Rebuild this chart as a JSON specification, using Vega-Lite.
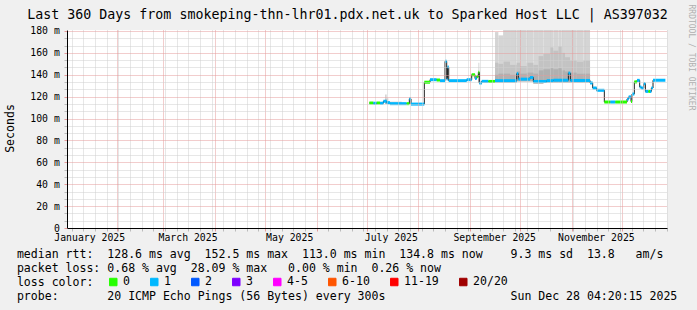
{
  "$schema": "https://vega.github.io/schema/vega-lite/v6.json",
  "width": 600,
  "height": 198,
  "autosize": {"type": "none"},
  "padding": {"left": 67, "top": 30, "right": 30, "bottom": 82},
  "background": "#f0f0f0",
  "config": {"view": {"stroke": null, "fill": "#ffffff"}, "font": "DejaVu Sans Mono"},
  "title": {
    "text": "Last 360 Days from smokeping-thn-lhr01.pdx.net.uk to Sparked Host LLC | AS397032",
    "font": "DejaVu Sans Mono", "fontSize": 13.3, "fontWeight": "normal", "color": "#000000",
    "anchor": "middle", "frame": "group", "dx": -19.5, "dy": 37, "offset": 6, "baseline": "bottom", "orient": "top"
  },
  "datasets": {
    "median": [
      {"t0": "2025-07-02T14:00:00Z", "t1": "2025-07-05T00:00:00Z", "v": 114.2, "loss": "0"},
      {"t0": "2025-07-05T00:00:00Z", "t1": "2025-07-07T00:00:00Z", "v": 114.0, "loss": "1"},
      {"t0": "2025-07-07T00:00:00Z", "t1": "2025-07-09T00:00:00Z", "v": 114.2, "loss": "0"},
      {"t0": "2025-07-09T00:00:00Z", "t1": "2025-07-11T00:00:00Z", "v": 114.0, "loss": "1"},
      {"t0": "2025-07-11T00:00:00Z", "t1": "2025-07-13T00:00:00Z", "v": 115.8, "loss": "1"},
      {"t0": "2025-07-13T00:00:00Z", "t1": "2025-07-15T00:00:00Z", "v": 114.5, "loss": "1"},
      {"t0": "2025-07-15T00:00:00Z", "t1": "2025-07-25T00:00:00Z", "v": 113.6, "loss": "1"},
      {"t0": "2025-07-25T00:00:00Z", "t1": "2025-07-26T14:00:00Z", "v": 113.6, "loss": "0"},
      {"t0": "2025-07-26T14:00:00Z", "t1": "2025-07-27T14:00:00Z", "v": 118.0, "loss": "1"},
      {"t0": "2025-07-27T14:00:00Z", "t1": "2025-08-04T14:00:00Z", "v": 113.2, "loss": "1"},
      {"t0": "2025-08-04T14:00:00Z", "t1": "2025-08-08T00:00:00Z", "v": 133.2, "loss": "0"},
      {"t0": "2025-08-08T00:00:00Z", "t1": "2025-08-12T00:00:00Z", "v": 135.5, "loss": "1"},
      {"t0": "2025-08-12T00:00:00Z", "t1": "2025-08-14T00:00:00Z", "v": 135.2, "loss": "0"},
      {"t0": "2025-08-14T00:00:00Z", "t1": "2025-08-17T00:00:00Z", "v": 134.6, "loss": "1"},
      {"t0": "2025-08-17T00:00:00Z", "t1": "2025-08-18T00:00:00Z", "v": 152.3, "loss": "1"},
      {"t0": "2025-08-18T00:00:00Z", "t1": "2025-08-18T12:00:00Z", "v": 136.0, "loss": "1"},
      {"t0": "2025-08-18T12:00:00Z", "t1": "2025-08-19T05:00:00Z", "v": 147.0, "loss": "1"},
      {"t0": "2025-08-19T05:00:00Z", "t1": "2025-08-30T00:00:00Z", "v": 134.6, "loss": "1"},
      {"t0": "2025-08-30T00:00:00Z", "t1": "2025-09-02T00:00:00Z", "v": 135.5, "loss": "1"},
      {"t0": "2025-09-02T00:00:00Z", "t1": "2025-09-04T00:00:00Z", "v": 140.0, "loss": "0"},
      {"t0": "2025-09-04T00:00:00Z", "t1": "2025-09-05T00:00:00Z", "v": 136.5, "loss": "1"},
      {"t0": "2025-09-05T00:00:00Z", "t1": "2025-09-06T00:00:00Z", "v": 138.5, "loss": "0"},
      {"t0": "2025-09-06T00:00:00Z", "t1": "2025-09-06T14:00:00Z", "v": 142.2, "loss": "0"},
      {"t0": "2025-09-06T14:00:00Z", "t1": "2025-09-08T00:00:00Z", "v": 132.4, "loss": "1"},
      {"t0": "2025-09-08T00:00:00Z", "t1": "2025-09-12T00:00:00Z", "v": 134.0, "loss": "1"},
      {"t0": "2025-09-12T00:00:00Z", "t1": "2025-09-16T00:00:00Z", "v": 133.9, "loss": "0"},
      {"t0": "2025-09-16T00:00:00Z", "t1": "2025-09-29T00:00:00Z", "v": 134.6, "loss": "1"},
      {"t0": "2025-09-29T00:00:00Z", "t1": "2025-09-30T00:00:00Z", "v": 141.0, "loss": "1"},
      {"t0": "2025-09-30T00:00:00Z", "t1": "2025-10-07T00:00:00Z", "v": 136.0, "loss": "1"},
      {"t0": "2025-10-07T00:00:00Z", "t1": "2025-10-09T00:00:00Z", "v": 137.6, "loss": "1"},
      {"t0": "2025-10-09T00:00:00Z", "t1": "2025-10-17T00:00:00Z", "v": 133.9, "loss": "1"},
      {"t0": "2025-10-17T00:00:00Z", "t1": "2025-10-21T00:00:00Z", "v": 134.6, "loss": "1"},
      {"t0": "2025-10-21T00:00:00Z", "t1": "2025-10-30T00:00:00Z", "v": 135.0, "loss": "1"},
      {"t0": "2025-10-30T00:00:00Z", "t1": "2025-10-31T05:00:00Z", "v": 141.5, "loss": "1"},
      {"t0": "2025-10-31T05:00:00Z", "t1": "2025-11-12T00:00:00Z", "v": 134.8, "loss": "1"},
      {"t0": "2025-11-12T00:00:00Z", "t1": "2025-11-13T14:00:00Z", "v": 132.5, "loss": "1"},
      {"t0": "2025-11-13T14:00:00Z", "t1": "2025-11-16T00:00:00Z", "v": 127.9, "loss": "1"},
      {"t0": "2025-11-16T00:00:00Z", "t1": "2025-11-20T14:00:00Z", "v": 125.8, "loss": "1"},
      {"t0": "2025-11-20T14:00:00Z", "t1": "2025-11-24T05:00:00Z", "v": 115.1, "loss": "0"},
      {"t0": "2025-11-24T05:00:00Z", "t1": "2025-11-27T05:00:00Z", "v": 115.1, "loss": "1"},
      {"t0": "2025-11-27T05:00:00Z", "t1": "2025-12-04T05:00:00Z", "v": 115.1, "loss": "0"},
      {"t0": "2025-12-04T05:00:00Z", "t1": "2025-12-05T05:00:00Z", "v": 117.9, "loss": "1"},
      {"t0": "2025-12-05T05:00:00Z", "t1": "2025-12-06T14:00:00Z", "v": 119.8, "loss": "1"},
      {"t0": "2025-12-06T14:00:00Z", "t1": "2025-12-07T05:00:00Z", "v": 115.5, "loss": "0"},
      {"t0": "2025-12-07T05:00:00Z", "t1": "2025-12-08T14:00:00Z", "v": 122.4, "loss": "1"},
      {"t0": "2025-12-08T14:00:00Z", "t1": "2025-12-10T05:00:00Z", "v": 133.5, "loss": "0"},
      {"t0": "2025-12-10T05:00:00Z", "t1": "2025-12-11T19:00:00Z", "v": 134.9, "loss": "1"},
      {"t0": "2025-12-11T19:00:00Z", "t1": "2025-12-12T19:00:00Z", "v": 128.8, "loss": "1"},
      {"t0": "2025-12-12T19:00:00Z", "t1": "2025-12-14T05:00:00Z", "v": 127.9, "loss": "1"},
      {"t0": "2025-12-14T05:00:00Z", "t1": "2025-12-15T05:00:00Z", "v": 131.9, "loss": "1"},
      {"t0": "2025-12-15T05:00:00Z", "t1": "2025-12-17T00:00:00Z", "v": 124.8, "loss": "1"},
      {"t0": "2025-12-17T00:00:00Z", "t1": "2025-12-18T00:00:00Z", "v": 124.8, "loss": "0"},
      {"t0": "2025-12-18T00:00:00Z", "t1": "2025-12-18T19:00:00Z", "v": 124.8, "loss": "1"},
      {"t0": "2025-12-18T19:00:00Z", "t1": "2025-12-19T19:00:00Z", "v": 127.9, "loss": "1"},
      {"t0": "2025-12-19T19:00:00Z", "t1": "2025-12-27T05:00:00Z", "v": 135.0, "loss": "1"}
    ],
    "smoke": [
      {"t0": "2025-07-12T00:00:00Z", "t1": "2025-07-13T00:00:00Z", "lo": 113.6, "m1": 115, "m2": 118, "hi": 122},
      {"t0": "2025-07-13T00:00:00Z", "t1": "2025-07-14T00:00:00Z", "lo": 113.6, "m1": 114.5, "m2": 116, "hi": 118.5},
      {"t0": "2025-07-14T00:00:00Z", "t1": "2025-07-22T00:00:00Z", "lo": 113.2, "m1": 113.6, "m2": 114, "hi": 115.5},
      {"t0": "2025-09-06T00:00:00Z", "t1": "2025-09-06T14:00:00Z", "lo": 133, "m1": 136, "m2": 142, "hi": 151},
      {"t0": "2025-09-16T00:00:00Z", "t1": "2025-09-18T00:00:00Z", "lo": 133, "m1": 140, "m2": 151, "hi": 179},
      {"t0": "2025-09-18T00:00:00Z", "t1": "2025-09-21T00:00:00Z", "lo": 133, "m1": 141, "m2": 150, "hi": 176},
      {"t0": "2025-09-21T00:00:00Z", "t1": "2025-09-25T00:00:00Z", "lo": 133, "m1": 141, "m2": 152, "hi": 185},
      {"t0": "2025-09-25T00:00:00Z", "t1": "2025-09-29T00:00:00Z", "lo": 133, "m1": 140, "m2": 149, "hi": 185},
      {"t0": "2025-09-29T00:00:00Z", "t1": "2025-10-01T00:00:00Z", "lo": 134, "m1": 143, "m2": 151, "hi": 185},
      {"t0": "2025-10-01T00:00:00Z", "t1": "2025-10-05T00:00:00Z", "lo": 134, "m1": 141, "m2": 148, "hi": 185},
      {"t0": "2025-10-05T00:00:00Z", "t1": "2025-10-09T00:00:00Z", "lo": 134, "m1": 142, "m2": 151, "hi": 185},
      {"t0": "2025-10-09T00:00:00Z", "t1": "2025-10-12T00:00:00Z", "lo": 132, "m1": 141, "m2": 149, "hi": 185},
      {"t0": "2025-10-12T00:00:00Z", "t1": "2025-10-15T00:00:00Z", "lo": 132, "m1": 144, "m2": 157, "hi": 185},
      {"t0": "2025-10-15T00:00:00Z", "t1": "2025-10-19T00:00:00Z", "lo": 133, "m1": 145, "m2": 159, "hi": 185},
      {"t0": "2025-10-19T00:00:00Z", "t1": "2025-10-21T00:00:00Z", "lo": 133, "m1": 146, "m2": 165, "hi": 185},
      {"t0": "2025-10-21T00:00:00Z", "t1": "2025-10-24T00:00:00Z", "lo": 133, "m1": 145, "m2": 162, "hi": 185},
      {"t0": "2025-10-24T00:00:00Z", "t1": "2025-10-26T00:00:00Z", "lo": 133, "m1": 146, "m2": 166, "hi": 185},
      {"t0": "2025-10-26T00:00:00Z", "t1": "2025-10-28T00:00:00Z", "lo": 133, "m1": 144, "m2": 160, "hi": 185},
      {"t0": "2025-10-28T00:00:00Z", "t1": "2025-10-31T00:00:00Z", "lo": 133, "m1": 143, "m2": 156, "hi": 185},
      {"t0": "2025-10-31T00:00:00Z", "t1": "2025-11-04T00:00:00Z", "lo": 133, "m1": 142, "m2": 153, "hi": 185},
      {"t0": "2025-11-04T00:00:00Z", "t1": "2025-11-08T00:00:00Z", "lo": 133, "m1": 141, "m2": 152, "hi": 185},
      {"t0": "2025-11-08T00:00:00Z", "t1": "2025-11-12T00:00:00Z", "lo": 133, "m1": 141, "m2": 153, "hi": 185}
    ]
  },
  "encoding": {
    "x": {
      "field": "t0", "type": "temporal",
      "scale": {"type": "utc", "nice": false, "domain": [
        {"year": 2025, "month": 1, "date": 2, "hours": 4, "minutes": 20, "seconds": 15, "utc": true},
        {"year": 2025, "month": 12, "date": 28, "hours": 4, "minutes": 20, "seconds": 15, "utc": true}]},
      "axis": {
        "orient": "bottom", "zindex": 1,
        "values": [
          {"year": 2025, "month": 1, "date": 5, "utc": true}, {"year": 2025, "month": 1, "date": 12, "utc": true}, {"year": 2025, "month": 1, "date": 19, "utc": true}, {"year": 2025, "month": 1, "date": 26, "utc": true},
          {"year": 2025, "month": 2, "date": 2, "utc": true}, {"year": 2025, "month": 2, "date": 9, "utc": true}, {"year": 2025, "month": 2, "date": 16, "utc": true}, {"year": 2025, "month": 2, "date": 23, "utc": true},
          {"year": 2025, "month": 3, "date": 2, "utc": true}, {"year": 2025, "month": 3, "date": 9, "utc": true}, {"year": 2025, "month": 3, "date": 16, "utc": true}, {"year": 2025, "month": 3, "date": 23, "utc": true}, {"year": 2025, "month": 3, "date": 30, "utc": true},
          {"year": 2025, "month": 4, "date": 6, "utc": true}, {"year": 2025, "month": 4, "date": 13, "utc": true}, {"year": 2025, "month": 4, "date": 20, "utc": true}, {"year": 2025, "month": 4, "date": 27, "utc": true},
          {"year": 2025, "month": 5, "date": 4, "utc": true}, {"year": 2025, "month": 5, "date": 11, "utc": true}, {"year": 2025, "month": 5, "date": 18, "utc": true}, {"year": 2025, "month": 5, "date": 25, "utc": true},
          {"year": 2025, "month": 6, "date": 8, "utc": true}, {"year": 2025, "month": 6, "date": 15, "utc": true}, {"year": 2025, "month": 6, "date": 22, "utc": true}, {"year": 2025, "month": 6, "date": 29, "utc": true},
          {"year": 2025, "month": 7, "date": 6, "utc": true}, {"year": 2025, "month": 7, "date": 13, "utc": true}, {"year": 2025, "month": 7, "date": 20, "utc": true}, {"year": 2025, "month": 7, "date": 27, "utc": true},
          {"year": 2025, "month": 8, "date": 3, "utc": true}, {"year": 2025, "month": 8, "date": 10, "utc": true}, {"year": 2025, "month": 8, "date": 17, "utc": true}, {"year": 2025, "month": 8, "date": 24, "utc": true}, {"year": 2025, "month": 8, "date": 31, "utc": true},
          {"year": 2025, "month": 9, "date": 7, "utc": true}, {"year": 2025, "month": 9, "date": 14, "utc": true}, {"year": 2025, "month": 9, "date": 21, "utc": true}, {"year": 2025, "month": 9, "date": 28, "utc": true},
          {"year": 2025, "month": 10, "date": 5, "utc": true}, {"year": 2025, "month": 10, "date": 12, "utc": true}, {"year": 2025, "month": 10, "date": 19, "utc": true}, {"year": 2025, "month": 10, "date": 26, "utc": true},
          {"year": 2025, "month": 11, "date": 2, "utc": true}, {"year": 2025, "month": 11, "date": 9, "utc": true}, {"year": 2025, "month": 11, "date": 16, "utc": true}, {"year": 2025, "month": 11, "date": 23, "utc": true}, {"year": 2025, "month": 11, "date": 30, "utc": true},
          {"year": 2025, "month": 12, "date": 7, "utc": true}, {"year": 2025, "month": 12, "date": 14, "utc": true}, {"year": 2025, "month": 12, "date": 21, "utc": true}, {"year": 2025, "month": 12, "date": 28, "utc": true},
          {"year": 2025, "month": 2, "date": 1, "utc": true}, {"year": 2025, "month": 3, "date": 1, "utc": true}, {"year": 2025, "month": 4, "date": 1, "utc": true}, {"year": 2025, "month": 5, "date": 1, "utc": true}, {"year": 2025, "month": 6, "date": 1, "utc": true}, {"year": 2025, "month": 7, "date": 1, "utc": true},
          {"year": 2025, "month": 8, "date": 1, "utc": true}, {"year": 2025, "month": 9, "date": 1, "utc": true}, {"year": 2025, "month": 10, "date": 1, "utc": true}, {"year": 2025, "month": 11, "date": 1, "utc": true}, {"year": 2025, "month": 12, "date": 1, "utc": true},
          {"year": 2025, "month": 1, "date": 15, "hours": 12, "utc": true}, {"year": 2025, "month": 3, "date": 15, "hours": 12, "utc": true}, {"year": 2025, "month": 5, "date": 15, "hours": 12, "utc": true},
          {"year": 2025, "month": 7, "date": 15, "hours": 12, "utc": true}, {"year": 2025, "month": 9, "date": 15, "hours": 12, "utc": true}, {"year": 2025, "month": 11, "date": 15, "hours": 12, "utc": true}
        ],
        "grid": true, "gridDash": [1, 1], "gridWidth": 1,
        "gridColor": {"condition": {"test": "utcdate(datum.value) === 1 && utchours(datum.value) === 0", "value": "#e59a9a"}, "value": "#cfcfcf"},
        "gridOpacity": {"condition": {"test": "utchours(datum.value) === 12", "value": 0}, "value": 1},
        "ticks": true, "tickSize": 3,
        "tickColor": {"condition": {"test": "utcdate(datum.value) === 1 && utchours(datum.value) === 0", "value": "#e59a9a"}, "value": "#bbbbbb"},
        "tickOpacity": {"condition": {"test": "utchours(datum.value) === 12", "value": 0}, "value": 1},
        "domain": true, "domainColor": "#000000", "domainWidth": 1,
        "labelExpr": "utchours(datum.value) === 12 ? utcFormat(datum.value, '%B %Y') : ''",
        "labelFont": "DejaVu Sans Mono", "labelFontSize": 9.8, "labelColor": "#000000", "labelPadding": 1.5,
        "labelOverlap": false, "labelFlush": false, "labelBound": false,
        "title": [
          "median rtt:\u00a0\u00a0128.6 ms avg\u00a0\u00a0152.5 ms max\u00a0\u00a0113.0 ms min\u00a0\u00a0134.8 ms now\u00a0\u00a0\u00a0\u00a09.3 ms sd\u00a0\u00a013.8\u00a0\u00a0\u00a0am/s",
          "packet loss: 0.68 % avg\u00a0\u00a028.09 % max\u00a0\u00a0\u00a00.00 % min\u00a0\u00a00.26 % now",
          "loss color:",
          "probe:\u00a0\u00a0\u00a0\u00a0\u00a0\u00a0\u00a020 ICMP Echo Pings (56 Bytes) every 300s\u00a0\u00a0\u00a0\u00a0\u00a0\u00a0\u00a0\u00a0\u00a0\u00a0\u00a0\u00a0\u00a0\u00a0\u00a0\u00a0\u00a0\u00a0Sun Dec 28 04:20:15 2025"
        ],
        "titleFont": "DejaVu Sans Mono", "titleFontSize": 11.55, "titleFontWeight": "normal", "titleColor": "#000000",
        "titleAnchor": "start", "titleAlign": "left", "titleBaseline": "top", "titleX": -50.6, "titleY": 20, "titleLineHeight": 14
      }
    }
  },
  "layer": [
    {
      "data": {"name": "smoke"},
      "mark": {"type": "rect", "color": "#d5d5d5", "clip": true},
      "encoding": {
        "x2": {"field": "t1"},
        "y": {"field": "lo", "type": "quantitative", "scale": {"domain": [0, 180.9], "nice": false, "zero": false},
          "axis": {"orient": "right", "labels": false, "ticks": false, "domain": false, "grid": false,
            "title": "RRDTOOL / TOBI OETIKER", "titleFont": "DejaVu Sans Mono", "titleFontSize": 8, "titleFontWeight": "normal",
            "titleColor": "#b0b0b0", "titleAngle": 90, "titleX": 23, "titleY": 27, "titleAlign": "center", "titleBaseline": "middle"}},
        "y2": {"field": "hi"}
      }
    },
    {
      "data": {"name": "smoke"},
      "mark": {"type": "rect", "color": "#c3c3c3", "clip": true},
      "encoding": {
        "x2": {"field": "t1"},
        "y": {"field": "lo", "type": "quantitative", "scale": {"domain": [0, 180.9], "nice": false, "zero": false}, "axis": null},
        "y2": {"field": "m2"}
      }
    },
    {
      "data": {"name": "smoke"},
      "mark": {"type": "rect", "color": "#b0b0b0", "clip": true},
      "encoding": {
        "x2": {"field": "t1"},
        "y": {"field": "lo", "type": "quantitative", "scale": {"domain": [0, 180.9], "nice": false, "zero": false}, "axis": null},
        "y2": {"field": "m1"}
      }
    },
    {
      "data": {"name": "median"},
      "mark": {"type": "line", "interpolate": "step-after", "color": "#202020", "strokeWidth": 1},
      "encoding": {
        "y": {"field": "v", "type": "quantitative", "scale": {"domain": [0, 180.9], "nice": false, "zero": false},
          "axis": {
            "orient": "left", "zindex": 1,
            "values": [0, 6.6667, 13.3333, 20, 26.6667, 33.3333, 40, 46.6667, 53.3333, 60, 66.6667, 73.3333, 80, 86.6667, 93.3333, 100, 106.6667, 113.3333, 120, 126.6667, 133.3333, 140, 146.6667, 153.3333, 160, 166.6667, 173.3333, 180],
            "grid": true, "gridDash": [1, 1], "gridWidth": 1,
            "gridColor": {"condition": {"test": "abs(datum.value - round(datum.value / 20) * 20) < 0.01", "value": "#e59a9a"}, "value": "#cfcfcf"},
            "gridOpacity": {"condition": {"test": "datum.value < 0.01", "value": 0}, "value": 1},
            "ticks": true, "tickSize": 3,
            "tickColor": {"condition": {"test": "abs(datum.value - round(datum.value / 20) * 20) < 0.01", "value": "#e59a9a"}, "value": "#bbbbbb"},
            "domain": true, "domainColor": "#000000", "domainWidth": 1,
            "labelExpr": "abs(datum.value - round(datum.value / 20) * 20) < 0.01 ? (datum.value < 0.01 ? '0\u00a0\u00a0' : format(datum.value, 'd') + '\u00a0m') : ''",
            "labelFont": "DejaVu Sans Mono", "labelFontSize": 9.8, "labelColor": "#000000", "labelPadding": 4.7,
            "labelOverlap": false, "labelFlush": false, "labelBound": false,
            "title": "Seconds", "titleFont": "DejaVu Sans Mono", "titleFontSize": 11.55, "titleFontWeight": "normal", "titleColor": "#000000",
            "titleX": -57, "titleY": 98, "titleAngle": 270, "titleAlign": "center", "titleBaseline": "middle"
          }}
      }
    },
    {
      "data": {"name": "median"},
      "mark": {"type": "rule", "strokeWidth": 3, "strokeCap": "butt"},
      "encoding": {
        "x2": {"field": "t1"},
        "y": {"field": "v", "type": "quantitative", "scale": {"domain": [0, 180.9], "nice": false, "zero": false}, "axis": null},
        "color": {
          "field": "loss", "type": "nominal",
          "scale": {"domain": ["0", "1", "2", "3", "4-5", "6-10", "11-19", "20/20"],
                    "range": ["#26ff00", "#00b8ff", "#0059ff", "#7e00ff", "#ff00ff", "#ff5500", "#ff0000", "#a00000"]},
          "legend": {
            "orient": "none", "legendX": 40.5, "legendY": 246, "direction": "horizontal", "columns": 8, "title": null,
            "symbolType": "square", "symbolSize": 56, "symbolStrokeColor": "#000000", "symbolStrokeWidth": 1, "symbolOpacity": 1,
            "labelFont": "DejaVu Sans Mono", "labelFontSize": 11.55, "labelColor": "#000000", "labelOffset": 4,
            "columnPadding": 18, "padding": 0, "labelLimit": 0,
            "encode": {"symbols": {"update": {
              "fill": {"scale": "color", "field": "value"}, "stroke": {"value": "#000000"}, "shape": {"value": "square"},
              "size": {"value": 56}, "strokeWidth": {"value": 1}, "opacity": {"value": 1}, "fillOpacity": {"value": 1}}}}
          }
        }
      }
    }
  ],
  "resolve": {"axis": {"y": "independent"}}
}
